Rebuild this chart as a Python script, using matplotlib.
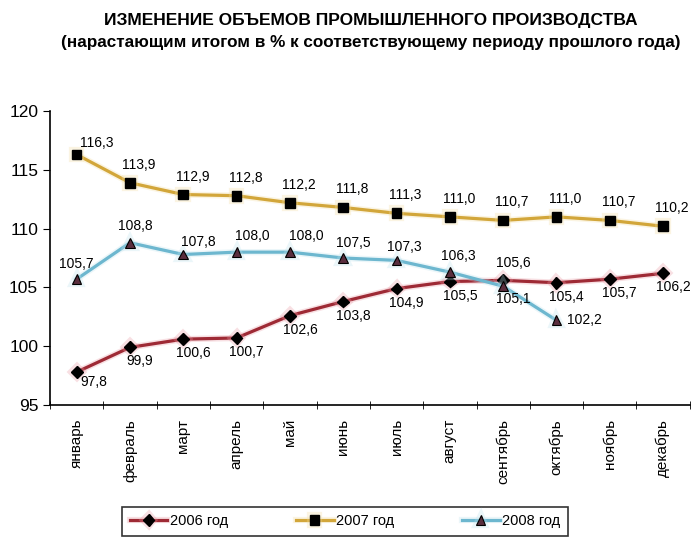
import matplotlib.pyplot as plt
import matplotlib.patheffects as pe

plt.rcParams['font.family'] = ['Liberation Sans', 'DejaVu Sans']

months = ['январь', 'февраль', 'март', 'апрель', 'май', 'июнь', 'июль',
          'август', 'сентябрь', 'октябрь', 'ноябрь', 'декабрь']
y2006 = [97.8, 99.9, 100.6, 100.7, 102.6, 103.8, 104.9, 105.5, 105.6, 105.4, 105.7, 106.2]
y2007 = [116.3, 113.9, 112.9, 112.8, 112.2, 111.8, 111.3, 111.0, 110.7, 111.0, 110.7, 110.2]
y2008 = [105.7, 108.8, 107.8, 108.0, 108.0, 107.5, 107.3, 106.3, 105.1, 102.2]
yticks = [95, 100, 105, 110, 115, 120]

fig = plt.figure(figsize=(7, 5.47), dpi=100)
ax = fig.add_axes([0.0714, 0.2596, 0.914, 0.5374])

x = list(range(len(months)))

def glow(c):
    return [pe.Stroke(linewidth=4.5, foreground=c, alpha=0.3), pe.Normal()]

ax.plot(x, y2006, color='#9E2A35', lw=2.3, marker='D', ms=6, mfc='black', mec='black',
        label='2006 год', path_effects=glow('#E89AA5'), zorder=3)
ax.plot(x, y2007, color='#D2A63A', lw=2.3, marker='s', ms=7, mfc='black', mec='black',
        label='2007 год', path_effects=glow('#F2DDA0'), zorder=3)
ax.plot(x[:len(y2008)], y2008, color='#6DB7CF', lw=2.3, marker='^', ms=7, mfc='#5A2E3E', mec='black',
        mew=0.8, label='2008 год', path_effects=glow('#BFE3EE'), zorder=3)

# label offsets in pixels
off07 = [(20, 12)] + [(9, 18)] * 11
off06 = [(17, -10)] + [(10, -14)] * 7 + [(10, 17)] + [(10, -14)] * 3
off08 = [(0, 15), (5, 17), (15, 12), (16, 16), (16, 16), (10, 15), (8, 13), (8, 16), (10, -13), (28, 0)]

def labels(vals, offs):
    for i, (v, o) in enumerate(zip(vals, offs)):
        ax.annotate(f'{v:.1f}'.replace('.', ','), (i, v), xytext=o, textcoords='offset pixels',
                    ha='center', va='center', fontsize=10, zorder=5)

labels(y2007, off07)
labels(y2006, off06)
labels(y2008, off08)

ax.set_xlim(-0.5, len(months) - 0.5)
ax.set_ylim(95, 120)
ax.set_yticks(yticks)
ax.tick_params(axis='y', labelsize=12.5, length=5, direction='out')
ax.set_xticks(x)
ax.set_xticklabels(months, rotation=90, fontsize=11)
ax.tick_params(axis='x', length=0, pad=10)
ax.set_xticks([i - 0.5 for i in range(len(months) + 1)], minor=True)
ax.tick_params(axis='x', which='minor', length=6, direction='inout')
for s in ['top', 'right']:
    ax.spines[s].set_visible(False)
for s in ['left', 'bottom']:
    ax.spines[s].set_linewidth(1.2)

fig.text(0.53, 0.963, 'ИЗМЕНЕНИЕ ОБЪЕМОВ ПРОМЫШЛЕННОГО ПРОИЗВОДСТВА',
         ha='center', va='center', fontsize=12.5, fontweight='bold')
fig.text(0.53, 0.923, '(нарастающим итогом в % к соответствующему периоду прошлого года)',
         ha='center', va='center', fontsize=12.3, fontweight='bold')

leg = fig.legend(loc='center', bbox_to_anchor=(0.493, 0.047), ncol=3, fontsize=10.5,
                 frameon=True, fancybox=False, edgecolor='black', columnspacing=4.6,
                 handlelength=2.6, handletextpad=0.2, borderpad=0.5, borderaxespad=0)
leg.get_frame().set_linewidth(1.2)

fig.savefig('out.png', dpi=100)
